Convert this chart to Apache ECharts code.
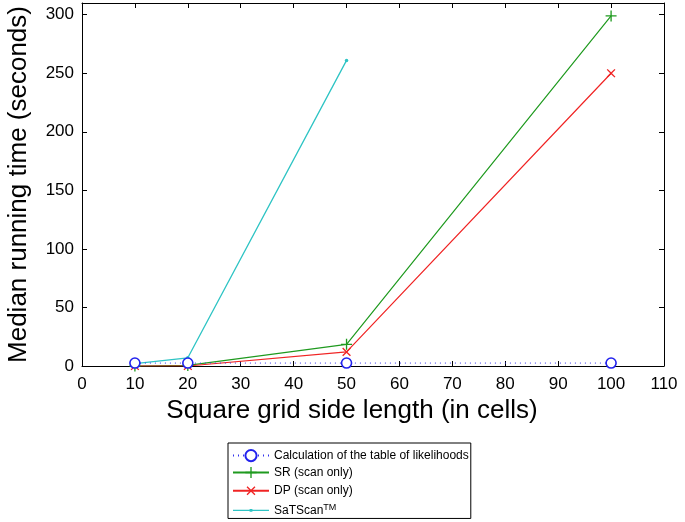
<!DOCTYPE html>
<html lang="en" style="height: 100%">
<head>
  <meta charset="utf-8" />
</head>
<body style="height: 100%; margin: 0; background: #fff">
  <div id="container" style="width: 685px; height: 522px;"></div>
  <script type="text/javascript" src="https://cdn.jsdelivr.net/npm/echarts@6/dist/echarts.min.js"></script>
  <script type="text/javascript">
    // grid side lengths
    var sizes = [10, 20, 50, 100];
    var satSizes = [10, 20, 50];
    // running times (seconds)
    var calcTable = [2.5, 2.5, 2.5, 2.5];
    var srScan = [0, 0.5, 18.5, 299];
    var dpScan = [0, 0, 12, 250];
    var satScan = [2, 7, 261];

    var xTicks = [0, 10, 20, 30, 40, 50, 60, 70, 80, 90, 100, 110];
    var yTicks = [0, 50, 100, 150, 200, 250, 300];

    function pairs(xs, ys) {
      return xs.map(function (x, i) { return [x, ys[i]]; });
    }

    var font = "'Liberation Sans', Arial, sans-serif";
    var plusPath = 'path://M4.4,0H5.6V4.4H10V5.6H5.6V10H4.4V5.6H0V4.4H4.4Z';
    // legend icon for SaTScan: thin line with a small dot
    var lineDotPath = 'path://M0,0L0,0M36,14L36,14M0,6.4H36V7.6H0Z M16.6,5.6H19.4V8.4H16.6Z';

    var myChart = echarts.init(document.getElementById('container'), null, { renderer: 'canvas' });

    var baseX = {
      type: 'value', min: 0, max: 110, interval: 10,
      axisLine: { onZero: false, lineStyle: { color: '#000', width: 1 } },
      axisTick: { inside: true, length: 5, lineStyle: { color: '#000' } },
      splitLine: { show: false }
    };
    var baseY = {
      type: 'value', min: 0, max: 310, interval: 50,
      axisLine: { onZero: false, lineStyle: { color: '#000', width: 1 } },
      axisTick: { inside: true, length: 5, lineStyle: { color: '#000' } },
      splitLine: { show: false }
    };

    var option = {
      animation: false,
      grid: { left: 82, right: 21, top: 3, bottom: 156, containLabel: false, outerBoundsMode: 'none' },
      xAxis: [
        Object.assign({}, baseX, {
          position: 'bottom',
          name: 'Square grid side length (in cells)',
          nameLocation: 'middle', nameGap: 32,
          nameTextStyle: { fontSize: 26, color: '#000', fontFamily: font, padding: [0, 42, 0, 0] },
          axisLabel: {
            color: '#000', fontSize: 17, fontFamily: font, margin: 10,
            formatter: function (v) { return xTicks.indexOf(v) >= 0 ? String(v) : ''; }
          }
        }),
        Object.assign({}, baseX, { position: 'top', axisLabel: { show: false } })
      ],
      yAxis: [
        Object.assign({}, baseY, {
          position: 'left',
          name: 'Median running time (seconds)',
          nameLocation: 'middle', nameGap: 50,
          nameTextStyle: { fontSize: 26, color: '#000', fontFamily: font },
          axisLabel: {
            color: '#000', fontSize: 17, fontFamily: font, margin: 8,
            formatter: function (v) { return yTicks.indexOf(v) >= 0 ? String(v) : ''; }
          }
        }),
        Object.assign({}, baseY, { position: 'right', axisLabel: { show: false } })
      ],
      legend: {
        orient: 'vertical',
        left: 228, top: 443, height: 80,
        backgroundColor: '#fff',
        borderColor: '#000', borderWidth: 1, borderRadius: 0,
        padding: [6, 2, 1, 4],
        itemWidth: 36, itemHeight: 14, itemGap: 4.3,
        textStyle: {
          fontSize: 12, color: '#000', fontFamily: font,
          rich: { sup: { fontSize: 9, verticalAlign: 'top', padding: [0, 0, 6, 0], fontFamily: font, color: '#000' } }
        },
        formatter: function (name) {
          return name === 'SaTScan' ? 'SaTScan{sup|TM}' : name;
        },
        data: [
          'Calculation of the table of likelihoods',
          'SR (scan only)',
          'DP (scan only)',
          { name: 'SaTScan', icon: lineDotPath }
        ]
      },
      series: [
        {
          name: 'Calculation of the table of likelihoods',
          type: 'line',
          data: pairs(sizes, calcTable),
          symbol: 'circle', symbolSize: 10,
          lineStyle: { color: '#3333ee', width: 1, type: [1, 4] },
          itemStyle: { color: '#fff', borderColor: '#2222ee', borderWidth: 1.6 },
          z: 5
        },
        {
          name: 'SR (scan only)',
          type: 'line',
          data: pairs(sizes, srScan),
          symbol: plusPath, symbolSize: 11, symbolKeepAspect: true,
          lineStyle: { color: '#1f9a1f', width: 1.2 },
          itemStyle: { color: '#1f9a1f' }
        },
        {
          name: 'DP (scan only)',
          type: 'line',
          data: pairs(sizes, dpScan),
          symbol: plusPath, symbolSize: 11, symbolRotate: 45, symbolKeepAspect: true,
          lineStyle: { color: '#f02424', width: 1.2 },
          itemStyle: { color: '#f02424' }
        },
        {
          name: 'SaTScan',
          type: 'line',
          data: pairs(satSizes, satScan),
          symbol: 'circle', symbolSize: 3.5,
          lineStyle: { color: '#2ec4c4', width: 1.3 },
          itemStyle: { color: '#2ec4c4' }
        }
      ]
    };

    myChart.setOption(option);
    window.addEventListener('resize', myChart.resize);
  </script>
</body>
</html>
